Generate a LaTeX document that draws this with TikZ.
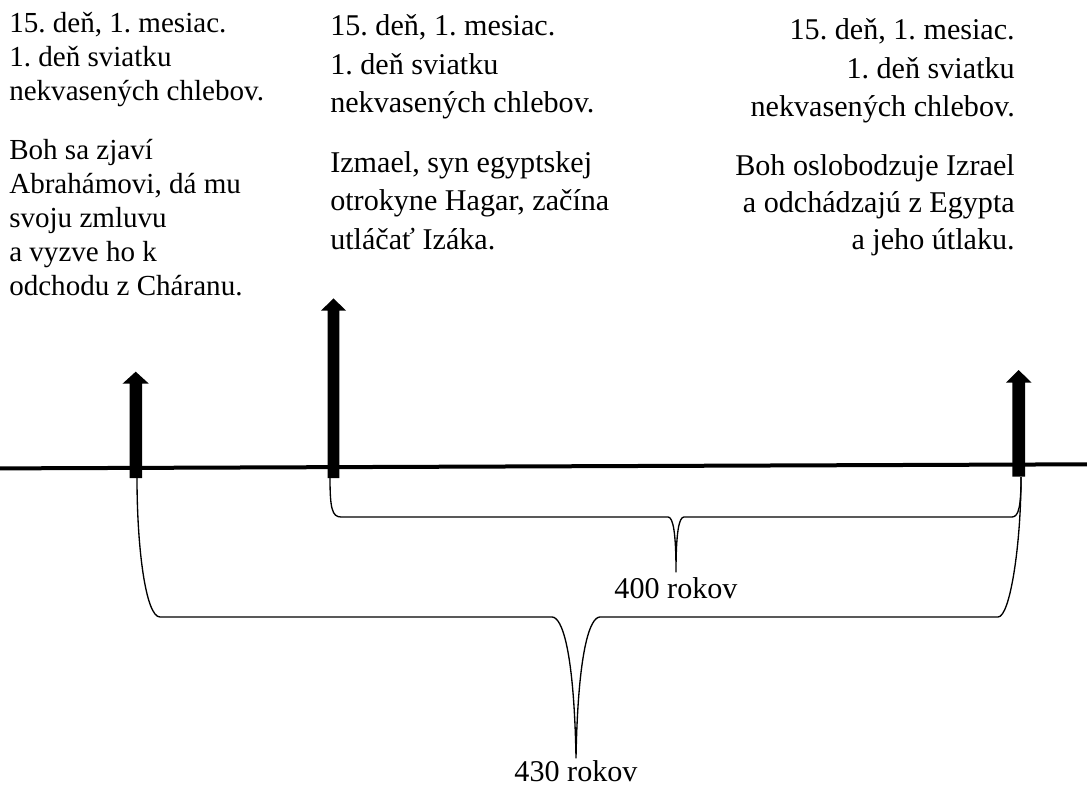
\documentclass[tikz,border=0pt]{standalone}
\usepackage{fontspec}
\setmainfont{Liberation Serif}
\frenchspacing
\begin{document}
\begin{tikzpicture}[x=0.75pt,y=-0.75pt,
  colA/.style={inner sep=0pt,font=\fontsize{21.8}{25}\selectfont,anchor=base west},
  colB/.style={inner sep=0pt,font=\fontsize{22.6}{26}\selectfont,anchor=base west},
  colC/.style={inner sep=0pt,font=\fontsize{22.6}{26}\selectfont,anchor=base east},
  lbl/.style={inner sep=0pt,font=\fontsize{22.6}{26}\selectfont,anchor=base},
  brace/.style={line width=1pt,line join=round},
  timeline/.style={line width=3pt},
  bigarrow/.style={fill=black}]
\useasboundingbox (0,0) rectangle (1087,788);
% column 1
\node[colA] (a1) at (9,33) {15. deň, 1. mesiac.};
\node[colA] (a2) at (9,67) {1. deň sviatku};
\node[colA] (a3) at (9,101) {nekvasených chlebov.};
\node[colA] (a4) at (9,159) {Boh sa zjaví};
\node[colA] (a5) at (9,193) {Abrahámovi, dá mu};
\node[colA] (a6) at (9,227) {svoju zmluvu};
\node[colA] (a7) at (9,261) {a vyzve ho k};
\node[colA] (a8) at (9,295) {odchodu z Cháranu.};
% column 2
\node[colB] (b1) at (330,36) {15. deň, 1. mesiac.};
\node[colB] (b2) at (330,75) {1. deň sviatku};
\node[colB] (b3) at (330,113) {nekvasených chlebov.};
\node[colB] (b4) at (330,172) {Izmael, syn egyptskej};
\node[colB] (b5) at (330,210) {otrokyne Hagar, začína};
\node[colB] (b6) at (330,249) {utláčať Izáka.};
% column 3
\node[colC] (c1) at (1015,40) {15. deň, 1. mesiac.};
\node[colC] (c2) at (1015,79) {1. deň sviatku};
\node[colC] (c3) at (1015,117) {nekvasených chlebov.};
\node[colC] (c4) at (1015,175) {Boh oslobodzuje Izrael};
\node[colC] (c5) at (1015,212) {a odchádzajú z Egypta};
\node[colC] (c6) at (1015,249) {a jeho útlaku.};
% timeline
\coordinate (tl) at (0,468.4);
\coordinate (tr) at (1087,464.3);
\draw[timeline] (tl) -- (tr);
% arrows
\fill[bigarrow] (129.5,478) -- (129.5,383.5) -- (122.7,383.5) -- (135.7,371.7) -- (148.7,383.5) -- (142,383.5) -- (142,478) -- cycle;
\fill[bigarrow] (327.7,478) -- (327.7,310.7) -- (321,310.7) -- (333.5,298.3) -- (346,310.7) -- (339.3,310.7) -- (339.3,478) -- cycle;
\fill[bigarrow] (1012.3,476.7) -- (1012.3,382.7) -- (1006,382.7) -- (1018.7,370) -- (1031.5,382.7) -- (1025,382.7) -- (1025,476.7) -- cycle;
\coordinate (p1) at (137,478);
\coordinate (p2) at (330,478);
\coordinate (p3) at (1021,477);
% upper brace
\coordinate (u) at (676,572);
\draw[brace] (p2) .. controls (330,508) and (332,517) .. (341,517) -- (668,517)
  .. controls (673,517) and (676,532) .. (u)
  .. controls (676,532) and (679,517) .. (684,517) -- (1012,517)
  .. controls (1019,517) and (1021,505) .. (p3);
% lower brace
\coordinate (l) at (576,758);
\draw[brace] (p1) .. controls (137,550) and (146,617) .. (160,617) -- (552,617)
  .. controls (562,617) and (574,650) .. (l)
  .. controls (578,650) and (590,617) .. (600,617) -- (998,617)
  .. controls (1010,617) and (1021,545) .. (p3);
\node[lbl] (r400) at (676,598) {400 rokov};
\node[lbl] (r430) at (576,781) {430 rokov};
\end{tikzpicture}
\end{document}
